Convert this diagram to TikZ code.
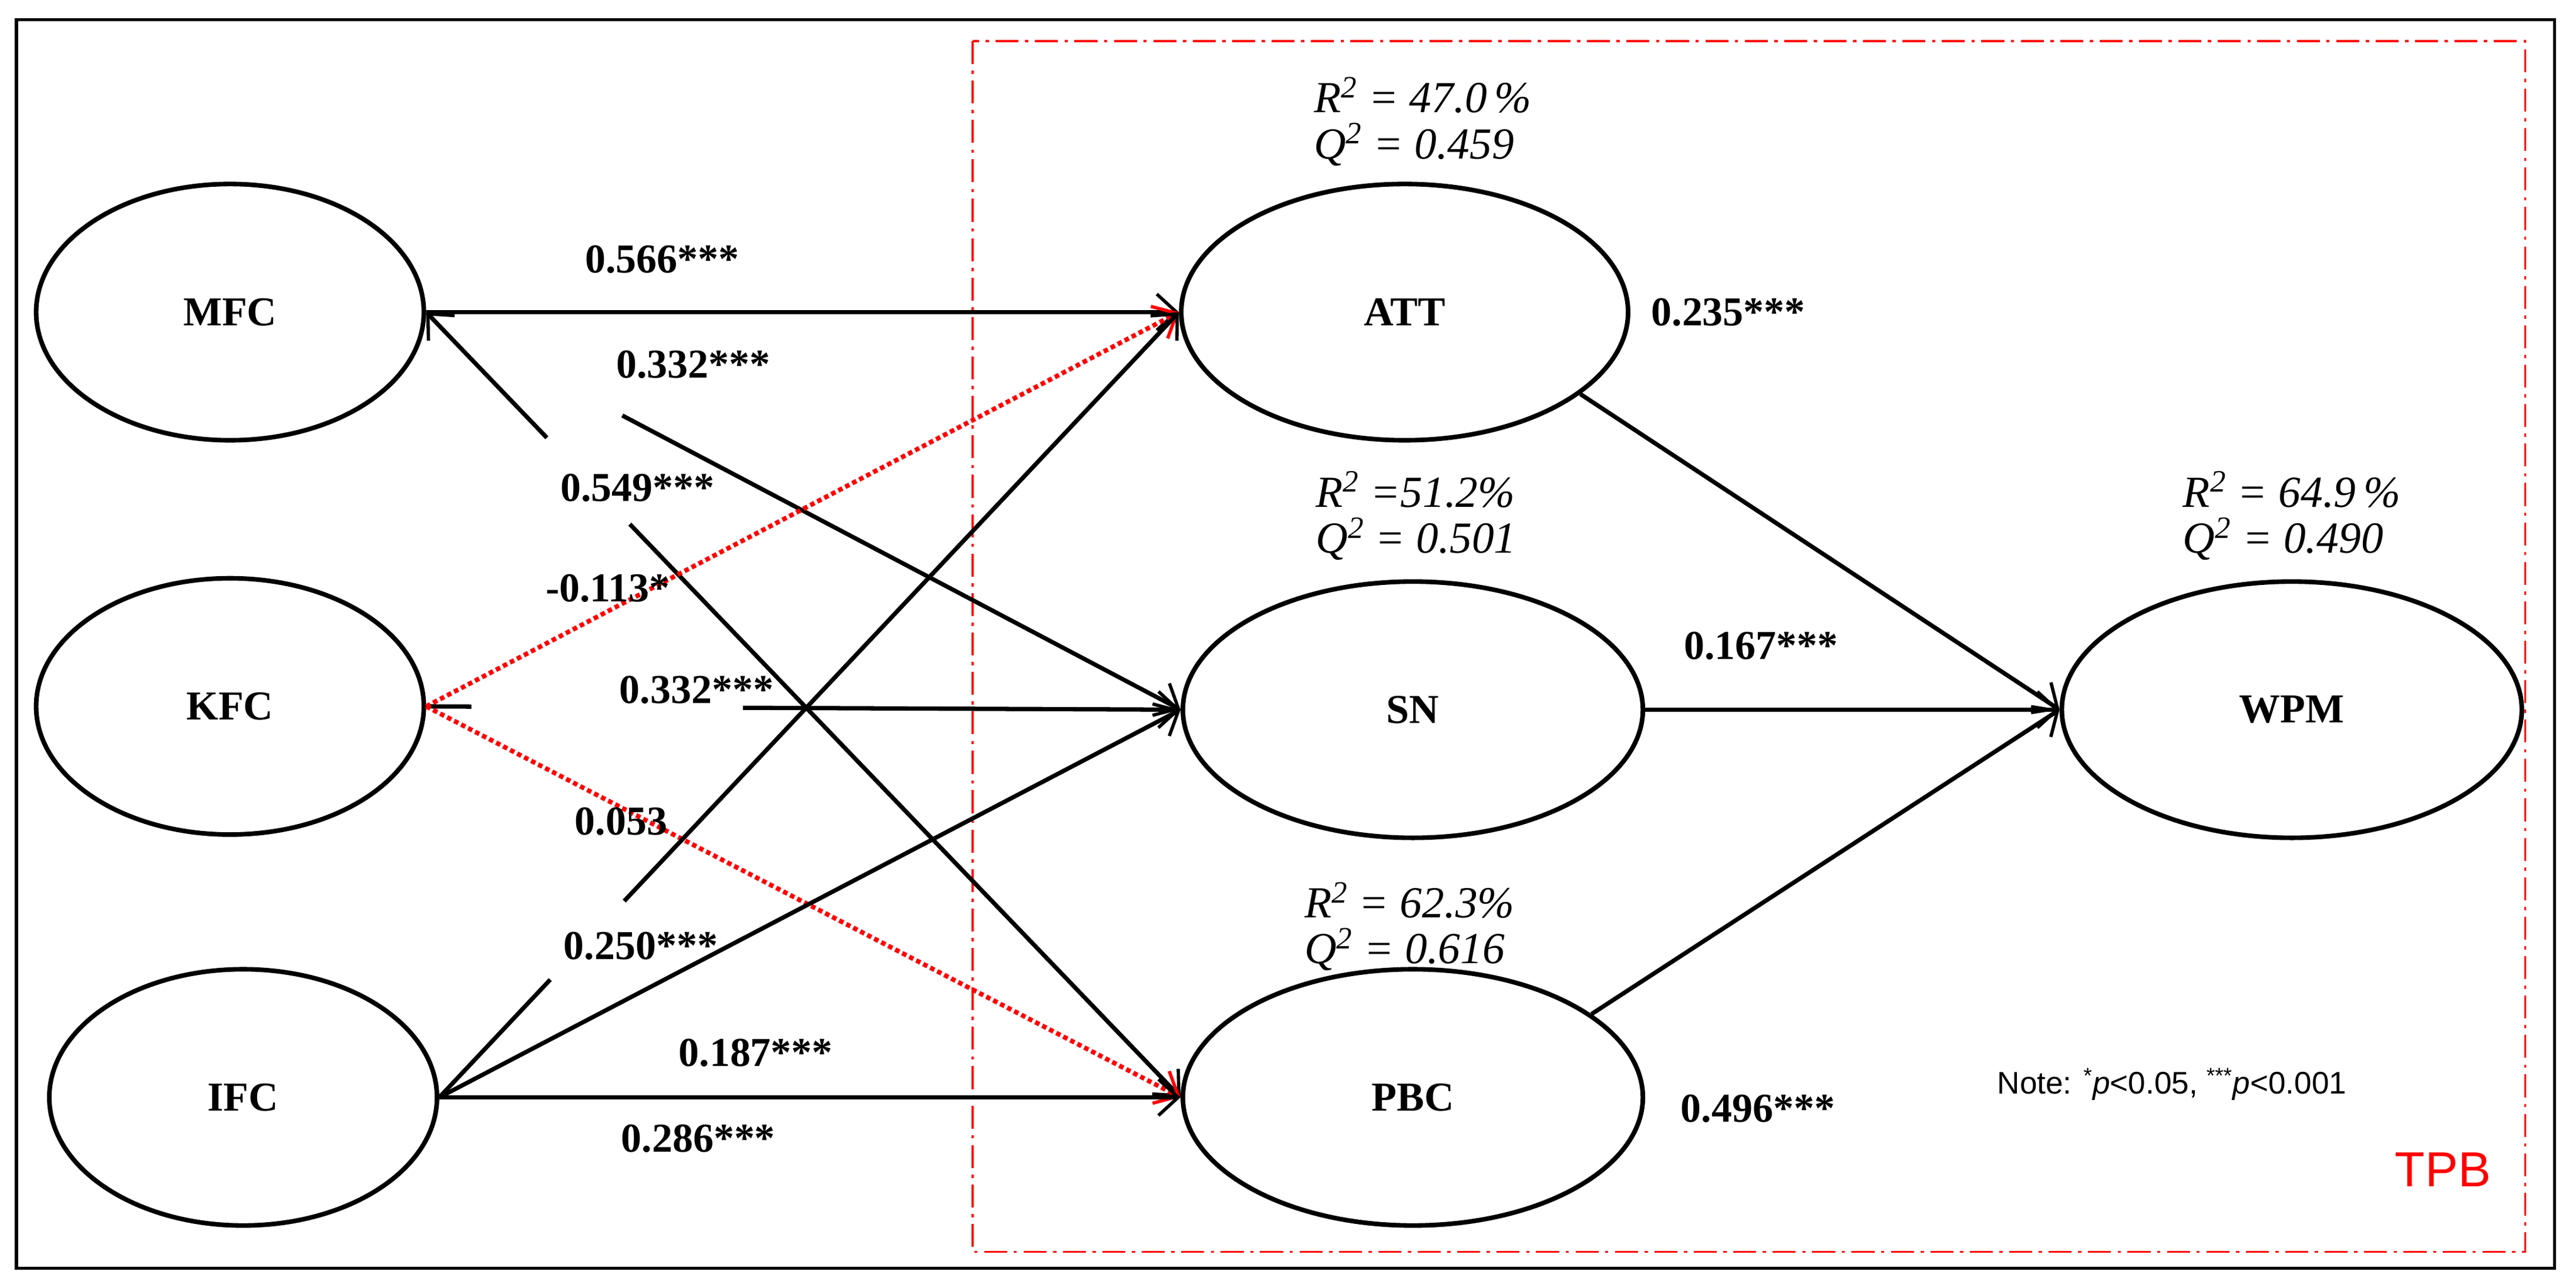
\documentclass[tikz,border=0pt]{standalone}
\usepackage{fontspec}
\setmainfont{Liberation Serif}
\newfontfamily\sansf{Liberation Sans}
\usetikzlibrary{arrows.meta,shapes.geometric}
\begin{document}
\begin{tikzpicture}[x=1pt,y=-1pt,
  lv/.style={draw,ellipse,line width=2.8pt,minimum width=#1,minimum height=156pt,font=\fontsize{25}{27}\selectfont\bfseries},
  lv/.default=236pt,
  arr/.style={line width=2.6pt,-{Straight Barb[length=12pt,width=22pt,line width=2pt]}},
  ln/.style={line width=2.6pt},
  reddot/.style={draw=red,line width=2.8pt,dotted,-{Straight Barb[length=12pt,width=22pt,line width=2pt]}},
  lab/.style={font=\fontsize{25}{27}\selectfont\bfseries},
  st/.style={font=\fontsize{27}{30}\selectfont\itshape,align=left}]
\useasboundingbox (0,0) rectangle (1568,782);
\fill[white] (0,0) rectangle (1568,782);
\draw[line width=2pt] (10,12) rectangle (1555,772);
\draw[red,line width=1.2pt,dash pattern=on 14pt off 4pt on 2pt off 4pt] (592,25) rectangle (1537,762);
\node[lv] (MFC) at (140,190) {MFC};
\node[lv] (KFC) at (140,430) {KFC};
\node[lv] (IFC) at (148,668) {IFC};
\node[lv=272pt] (ATT) at (855,190) {ATT};
\node[lv=280pt] (SN) at (860,432) {SN};
\node[lv=280pt] (PBC) at (860,668) {PBC};
\node[lv=280pt] (WPM) at (1395,432) {WPM};
\draw[arr] (MFC.east) -- (ATT.west);
\path (MFC.east) -- (SN.west) coordinate[pos=0.26] (g1);
\draw[arr] (g1) -- (SN.west);
\path (MFC.east) -- (PBC.west) coordinate[pos=0.16] (g2a) coordinate[pos=0.27] (g2b);
\draw[ln,{Straight Barb[length=12pt,width=22pt,line width=2pt]}-] (MFC.east) -- (g2a);
\draw[arr] (g2b) -- (PBC.west);
\path (KFC.east) -- (SN.west) coordinate[pos=0.06] (g3a) coordinate[pos=0.42] (g3b);
\draw[ln] (KFC.east) -- (g3a);
\draw[arr] (g3b) -- (SN.west);
\draw[reddot] (KFC.east) -- (ATT.west);
\draw[reddot] (KFC.east) -- (PBC.west);
\path (IFC.east) -- (ATT.west) coordinate[pos=0.15] (g4a) coordinate[pos=0.25] (g4b);
\draw[ln] (IFC.east) -- (g4a);
\draw[arr] (g4b) -- (ATT.west);
\draw[arr] (IFC.east) -- (SN.west);
\draw[arr] (IFC.east) -- (PBC.west);
\draw[arr] (ATT.-25) -- (WPM.west);
\draw[arr] (SN.east) -- (WPM.west);
\draw[arr] (PBC.25) -- (WPM.west);
\node[lab] (l1) at (403,158) {0.566***};
\node[lab] (l2) at (422,222) {0.332***};
\node[lab] (l3) at (388,297) {0.549***};
\node[lab] (l4) at (370,358) {-0.113*};
\node[lab] (l5) at (424,420) {0.332***};
\node[lab] (l6) at (378,500) {0.053};
\node[lab] (l7) at (390,576) {0.250***};
\node[lab] (l8) at (460,641) {0.187***};
\node[lab] (l9) at (425,693) {0.286***};
\node[lab] (l10) at (1052,190) {0.235***};
\node[lab] (l11) at (1072,393) {0.167***};
\node[lab] (l12) at (1070,675) {0.496***};
\node[st] (s1) at (866,74) {R\textsuperscript{2} = 47.0\,\%\\[-2pt]Q\textsuperscript{2} = 0.459};
\node[st] (s2) at (862,314) {R\textsuperscript{2} =51.2\%\\[-2pt]Q\textsuperscript{2} = 0.501};
\node[st] (s3) at (858,564) {R\textsuperscript{2} = 62.3\%\\[-2pt]Q\textsuperscript{2} = 0.616};
\node[st] (s4) at (1395,314) {R\textsuperscript{2} = 64.9\,\%\\[-2pt]Q\textsuperscript{2} = 0.490};
\node[font=\sansf\fontsize{19}{21}\selectfont] (note) at (1322,660) {Note: \textsuperscript{*}\textit{p}<0.05, \textsuperscript{***}\textit{p}<0.001};
\node[font=\sansf\fontsize{30}{32}\selectfont,text=red] (tpb) at (1487,712) {TPB};
\end{tikzpicture}
\end{document}
